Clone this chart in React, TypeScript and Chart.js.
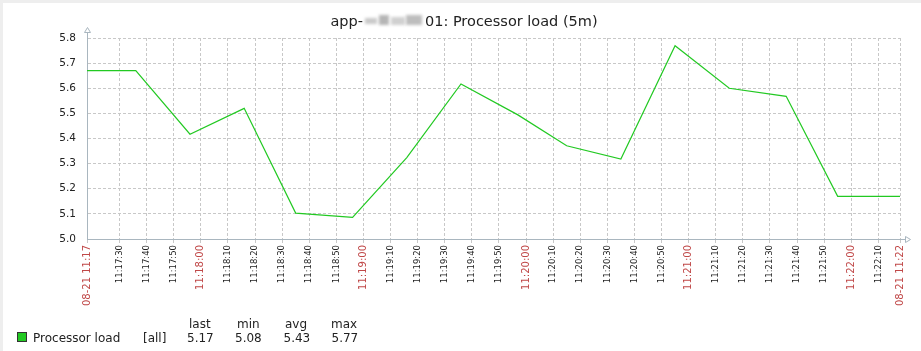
import React, { useEffect, useRef } from "react";
import { Chart, registerables } from "chart.js";

Chart.register(...registerables);

// ---- data ----
const titlePrefix = "app-";
const titleSuffix = "01: Processor load (5m)";
const dateLabel = "08-21";
const rangeStart = "11:17:18";
const rangeEnd = "11:22:18";
const sampleTimes = [
  "11:17:16", "11:17:36", "11:17:56", "11:18:16", "11:18:35", "11:18:56",
  "11:19:16", "11:19:36", "11:19:57", "11:20:15", "11:20:35", "11:20:55",
  "11:21:15", "11:21:36", "11:21:55", "11:22:15", "11:22:35",
];
const loadValues = [
  5.67, 5.67, 5.417, 5.52, 5.103, 5.086,
  5.324, 5.617, 5.494, 5.371, 5.318, 5.769,
  5.6, 5.568, 5.17, 5.17, 5.17,
];
const yMin = 5.0;
const yMax = 5.8;
const yStep = 0.1;
const seriesName = "Processor load";
const seriesFunc = "[all]";
const statHeaders = ["last", "min", "avg", "max"];
const statValues = ["5.17", "5.08", "5.43", "5.77"];

// ---- styles ----
const FONT = "'DejaVu Sans', sans-serif";
const GREEN = "#22c922";
const TEXT = "#222222";
const RED = "#c04848";
const GRID = "#c8c8c8";
const AXIS = "#a9b6bf";

const toSec = (s: string) => {
  const [h, m, sec] = s.split(":").map(Number);
  return h * 3600 + m * 60 + sec;
};
const pad2 = (n: number) => String(n).padStart(2, "0");
const startSec = toSec(rangeStart);
const endSec = toSec(rangeEnd);
const isRed = (v: number) => v === startSec || v === endSec || v % 60 === 0;

const fmt = (v: number) => {
  const h = Math.floor(v / 3600);
  const m = Math.floor((v % 3600) / 60);
  const s = v % 60;
  if (v === startSec || v === endSec) return `${dateLabel} ${pad2(h)}:${pad2(m)}`;
  return `${pad2(h)}:${pad2(m)}:${pad2(s)}`;
};

const decorPlugin = {
  id: "decor",
  beforeDraw(chart: any) {
    const { ctx, width, height } = chart;
    ctx.save();
    ctx.fillStyle = "#ffffff";
    ctx.fillRect(0, 0, width, height);
    ctx.fillStyle = "#eeeeee";
    ctx.fillRect(0, 0, width, 3);
    ctx.fillRect(0, 0, 3, height);
    ctx.restore();
  },
  afterDraw(chart: any) {
    const { ctx, chartArea } = chart;
    const { left, right, top, bottom } = chartArea;
    ctx.save();
    // axis extensions + arrows
    ctx.strokeStyle = AXIS;
    ctx.lineWidth = 1;
    ctx.beginPath();
    ctx.moveTo(left + 0.5, top);
    ctx.lineTo(left + 0.5, top - 5);
    ctx.moveTo(right, bottom + 0.5);
    ctx.lineTo(right + 5, bottom + 0.5);
    ctx.stroke();
    ctx.beginPath();
    ctx.moveTo(left - 2.5, top - 5.5);
    ctx.lineTo(left + 3.5, top - 5.5);
    ctx.lineTo(left + 0.5, top - 10.5);
    ctx.closePath();
    ctx.stroke();
    ctx.beginPath();
    ctx.moveTo(right + 5.5, bottom - 2.5);
    ctx.lineTo(right + 5.5, bottom + 3.5);
    ctx.lineTo(right + 10.5, bottom + 0.5);
    ctx.closePath();
    ctx.stroke();

    // title
    ctx.font = `14.5px ${FONT}`;
    ctx.fillStyle = TEXT;
    ctx.textBaseline = "alphabetic";
    ctx.textAlign = "left";
    const blurW = 62;
    const w1 = ctx.measureText(titlePrefix).width;
    const w2 = ctx.measureText(titleSuffix).width;
    const total = w1 + blurW + w2;
    const x0 = 464 - total / 2;
    ctx.fillText(titlePrefix, x0, 26);
    ctx.fillText(titleSuffix, x0 + w1 + blurW, 26);
    // obfuscated part of the host name
    ctx.filter = "blur(1.5px)";
    ctx.fillStyle = "#c9c9c9";
    ctx.fillRect(x0 + w1 + 2, 18, 12, 6);
    ctx.fillStyle = "#b5b5b5";
    ctx.fillRect(x0 + w1 + 16, 15, 10, 10);
    ctx.fillStyle = "#d0d0d0";
    ctx.fillRect(x0 + w1 + 28, 17, 14, 8);
    ctx.fillStyle = "#bdbdbd";
    ctx.fillRect(x0 + w1 + 43, 15, 16, 10);
    ctx.filter = "none";

    // legend
    ctx.fillStyle = GREEN;
    ctx.fillRect(17, 332, 10, 10);
    ctx.strokeStyle = "#333333";
    ctx.strokeRect(17.5, 332.5, 9, 9);
    ctx.font = `12px ${FONT}`;
    ctx.fillStyle = TEXT;
    ctx.fillText(seriesName, 33, 342);
    ctx.fillText(seriesFunc, 143, 342);
    const hx = [189, 237, 285, 331];
    const vx = [187, 235, 283.5, 331.5];
    statHeaders.forEach((h, i) => ctx.fillText(h, hx[i], 328));
    statValues.forEach((v, i) => ctx.fillText(v, vx[i], 342));
    ctx.restore();
  },
};

export default function App() {
  const ref = useRef<HTMLCanvasElement | null>(null);
  useEffect(() => {
    if (!ref.current) return;
    const points = sampleTimes.map((t, i) => ({ x: toSec(t), y: loadValues[i] }));
    const chart = new Chart(ref.current, {
      type: "line",
      data: {
        datasets: [
          {
            label: seriesName,
            data: points,
            borderColor: GREEN,
            borderWidth: 1.2,
            pointRadius: 0,
            tension: 0,
            fill: false,
          },
        ],
      },
      options: {
        animation: false,
        responsive: false,
        devicePixelRatio: 1,
        layout: { padding: { left: 0, top: 38, right: 21, bottom: 0 } },
        plugins: { legend: { display: false }, title: { display: false }, tooltip: { enabled: false } },
        scales: {
          x: {
            type: "linear",
            min: startSec,
            max: endSec,
            afterBuildTicks: (scale: any) => {
              const ticks: any[] = [{ value: startSec }];
              for (let s = Math.ceil(startSec / 10) * 10; s < endSec; s += 10) {
                if (s - startSec < 5 || endSec - s < 5) continue;
                ticks.push({ value: s });
              }
              ticks.push({ value: endSec });
              scale.ticks = ticks;
            },
            afterFit: (scale: any) => {
              scale.height = 112;
            },
            grid: {
              color: GRID,
              lineWidth: 1,
              drawTicks: true,
              tickLength: 4,
            },
            border: { display: true, color: AXIS, width: 1, dash: [3, 2] },
            ticks: {
              autoSkip: false,
              minRotation: 90,
              maxRotation: 90,
              padding: 2,
              callback: (v: any) => fmt(Number(v)),
              color: (c: any) => (c.tick && isRed(c.tick.value) ? RED : TEXT),
              font: (c: any) =>
                c.tick && isRed(c.tick.value)
                  ? { family: FONT, size: 10 }
                  : { family: FONT, size: 8.5 },
            },
          },
          y: {
            type: "linear",
            min: yMin,
            max: yMax,
            afterFit: (scale: any) => {
              scale.width = 87;
            },
            grid: { color: GRID, lineWidth: 1, drawTicks: false },
            border: { display: true, color: AXIS, width: 1, dash: [3, 2] },
            ticks: {
              stepSize: yStep,
              padding: 11,
              color: TEXT,
              font: { family: FONT, size: 10.5 },
              callback: (v: any) => Number(v).toFixed(1),
            },
          },
        },
      },
      plugins: [decorPlugin],
    });
    return () => chart.destroy();
  }, []);
  return (
    <div style={{ position: "fixed", left: 0, top: 0, width: 921, height: 351, background: "#fff" }}>
      <canvas ref={ref} width={921} height={351} style={{ display: "block", width: 921, height: 351 }} />
    </div>
  );
}
